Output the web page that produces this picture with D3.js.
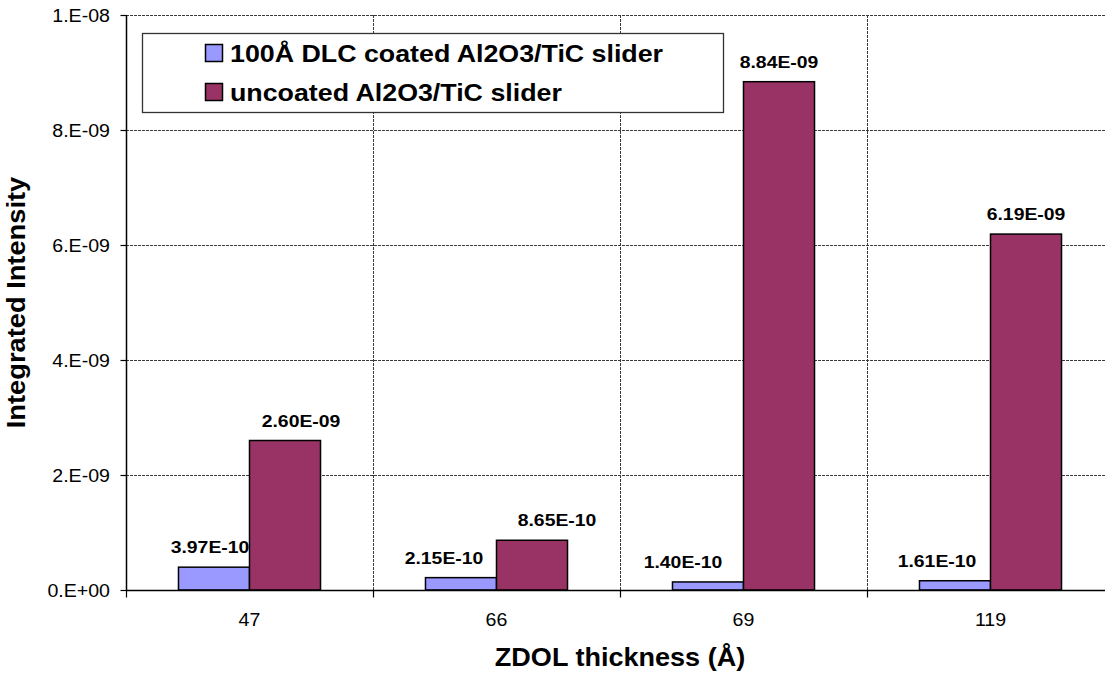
<!DOCTYPE html>
<html>
<head>
<meta charset="utf-8">
<script src="https://cdn.jsdelivr.net/npm/d3@7"></script>
<style>
  html, body { margin: 0; padding: 0; background: #fff; }
  svg { display: block; font-family: "Liberation Sans", Arial, sans-serif; }
</style>
</head>
<body>
<svg id="chart" width="1105" height="674"></svg>
<script>
// ZDOL thicknesses (Å) on the x axis
const categories = ["47", "66", "69", "119"];
const seriesNames = ["100Å DLC coated Al2O3/TiC slider", "uncoated Al2O3/TiC slider"];
const coatedValues = [3.97e-10, 2.15e-10, 1.40e-10, 1.61e-10];
const uncoatedValues = [2.60e-09, 8.65e-10, 8.84e-09, 6.19e-09];
const yTicks = [0, 2e-9, 4e-9, 6e-9, 8e-9, 1e-8];
const seriesColors = ["#9999FF", "#993366"];
// sideways nudges (px) of each value label, [coated, uncoated]
const labelNudge = [[-4, 16], [-17, 25], [-25, 0], [-18, 0]];

const svg = d3.select("#chart");
const plot = { left: 126, top: 15, bottom: 590, band: 247 };
plot.right = plot.left + plot.band * categories.length;

const x0 = d3.scaleBand().domain(categories).range([plot.left, plot.right]);
const x1 = d3.scaleBand().domain([0, 1]).range([0, x0.bandwidth()])
  .paddingInner(0).paddingOuter(0.739);
const y = d3.scaleLinear().domain([0, 1e-8]).range([plot.bottom, plot.top]);

// scientific notation with a two-digit exponent, e.g. 3.97E-10
function sci(v, digits) {
  if (v === 0) return (digits ? (0).toFixed(digits) : "0.") + "E+00";
  const e = Math.floor(Math.log10(Math.abs(v)) + 1e-9);
  const m = v / Math.pow(10, e);
  const ms = digits ? m.toFixed(digits) : m.toFixed(0) + ".";
  const sign = e < 0 ? "-" : "+";
  return ms + "E" + sign + String(Math.abs(e)).padStart(2, "0");
}

// text with a horizontal stretch along its reading direction
function stretchedText(g, x, yPos, str, opts) {
  return g.append("text")
    .attr("transform", `translate(${x},${yPos})` + (opts.rotate ? ` rotate(${opts.rotate})` : "") + ` scale(${opts.stretch || 1},1)`)
    .attr("font-size", opts.size)
    .attr("font-weight", opts.bold ? "bold" : "normal")
    .attr("text-anchor", opts.anchor || "start")
    .attr("fill", "#000")
    .text(str);
}

const grid = svg.append("g").attr("stroke", "#3a3a3a").attr("stroke-width", 1)
  .attr("stroke-dasharray", "3,1").attr("fill", "none");

// horizontal gridlines
grid.selectAll("line.h").data(yTicks.filter(d => d > 0)).join("line")
  .attr("x1", plot.left).attr("x2", plot.right)
  .attr("y1", d => Math.round(y(d)) + 0.5).attr("y2", d => Math.round(y(d)) + 0.5);

// vertical gridlines between categories
grid.selectAll("line.v").data(categories.slice(1)).join("line")
  .attr("x1", d => Math.round(x0(d)) + 0.5).attr("x2", d => Math.round(x0(d)) + 0.5)
  .attr("y1", plot.top).attr("y2", plot.bottom);

// bars
const groups = svg.append("g").selectAll("g").data(categories).join("g")
  .attr("transform", d => `translate(${x0(d)},0)`);
groups.selectAll("rect")
  .data((d, i) => [coatedValues[i], uncoatedValues[i]].map((v, s) => ({ v, s })))
  .join("rect")
  .attr("x", d => x1(d.s))
  .attr("width", x1.bandwidth())
  .attr("y", d => y(d.v))
  .attr("height", d => y(0) - y(d.v))
  .attr("fill", d => seriesColors[d.s])
  .attr("stroke", "#000").attr("stroke-width", 1.5);

// value labels
const labels = svg.append("g");
categories.forEach((c, i) => {
  [coatedValues[i], uncoatedValues[i]].forEach((v, s) => {
    const cx = x0(c) + x1(s) + x1.bandwidth() / 2 + labelNudge[i][s];
    stretchedText(labels, cx, y(v) - 14, sci(v, 2), { size: 17, bold: true, stretch: 1.14, anchor: "middle" });
  });
});

// axes
const yAxis = d3.axisLeft(y).tickValues(yTicks).tickSize(6).tickPadding(0).tickFormat("");
const yg = svg.append("g").attr("transform", `translate(${plot.left + 0.5},0)`).call(yAxis);
yg.select(".domain").attr("stroke", "#000").attr("stroke-width", 1.5).attr("d", `M0,${plot.top}V${plot.bottom}`);
yg.selectAll(".tick line").attr("stroke", "#000").attr("stroke-width", 1.2);
yTicks.forEach(t => {
  stretchedText(svg, 110, y(t) + 7, sci(t, 0), { size: 17.5, stretch: 1.12, anchor: "end" });
});

const xAxis = d3.axisBottom(d3.scaleLinear().domain([0, categories.length]).range([plot.left, plot.right]))
  .tickValues(d3.range(categories.length + 1)).tickSize(7).tickFormat("");
const xg = svg.append("g").attr("transform", `translate(0,${plot.bottom + 0.5})`).call(xAxis);
xg.select(".domain").attr("stroke", "#000").attr("stroke-width", 1.5).attr("d", `M${plot.left},0H${plot.right}`);
xg.selectAll(".tick line").attr("stroke", "#000").attr("stroke-width", 1.2);
categories.forEach(c => {
  stretchedText(svg, x0(c) + x0.bandwidth() / 2, 626, c, { size: 17.5, stretch: 1.12, anchor: "middle" });
});

// axis titles
stretchedText(svg, (plot.left + plot.right) / 2, 666, "ZDOL thickness (Å)", { size: 26, bold: true, stretch: 1.04, anchor: "middle" });
stretchedText(svg, 25, 302.5, "Integrated Intensity", { size: 25.5, bold: true, stretch: 1.07, anchor: "middle", rotate: -90 });

// legend
const legend = svg.append("g");
legend.append("rect").attr("x", 142.5).attr("y", 33.5).attr("width", 581).attr("height", 79)
  .attr("fill", "#fff").attr("stroke", "#333").attr("stroke-width", 1.3);
seriesNames.forEach((name, s) => {
  const cy = 53 + s * 39;
  legend.append("rect").attr("x", 205.5).attr("y", cy - 8.5).attr("width", 17).attr("height", 17)
    .attr("fill", seriesColors[s]).attr("stroke", "#000").attr("stroke-width", 1.5);
  stretchedText(legend, 230, cy + 8.5, name, { size: 23, bold: true, stretch: 1.165 });
});
</script>
</body>
</html>
